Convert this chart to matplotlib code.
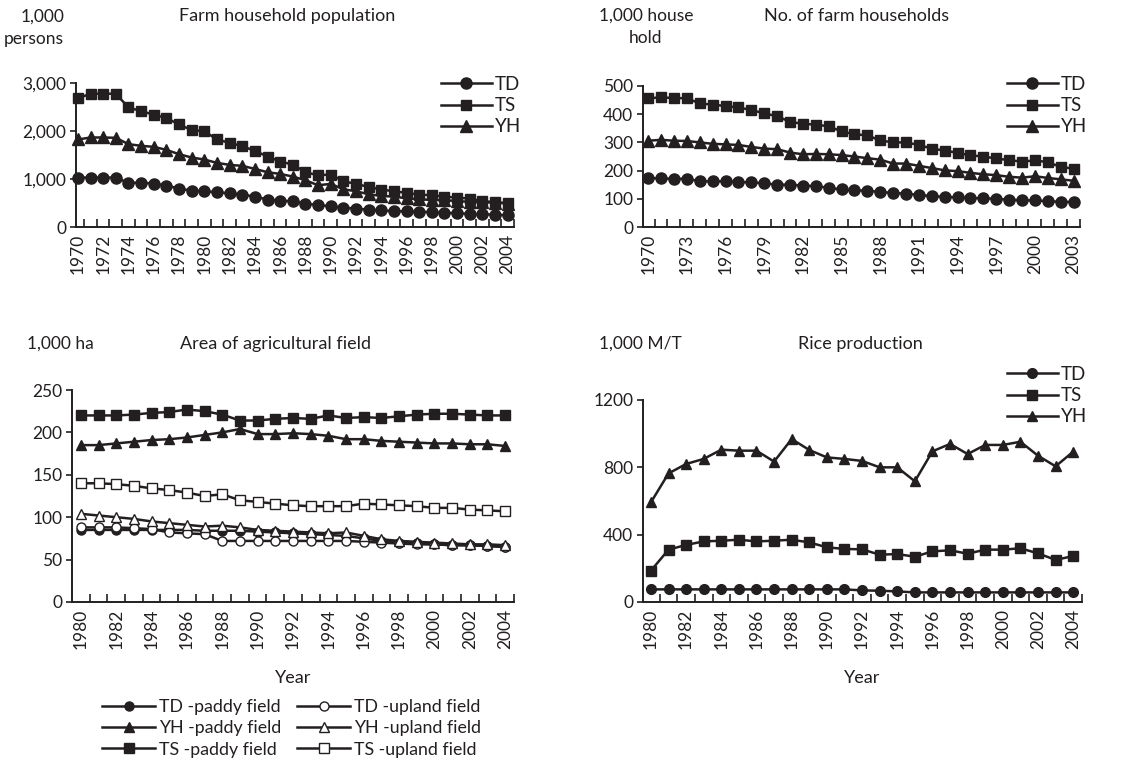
import matplotlib
matplotlib.use("Agg")
import matplotlib.pyplot as plt
from matplotlib.ticker import FuncFormatter

plt.rcParams['font.family'] = ['Lato', 'DejaVu Sans']

# ---------------- data ----------------
years_pop = list(range(1970, 2005))
pop_TD = [1030, 1030, 1030, 1030, 919, 925, 905, 863, 800, 758, 745, 724, 703, 675, 633, 571, 550,
          536, 487, 459, 431, 404, 383, 362, 348, 327, 327, 320, 306, 292, 292, 271, 264, 257, 244]
pop_TS = [2680, 2777, 2777, 2777, 2490, 2415, 2340, 2270, 2137, 2018, 1997, 1823, 1754, 1684, 1587,
          1468, 1364, 1301, 1141, 1079, 1093, 953, 898, 835, 780, 745, 710, 675, 661, 633, 612, 592,
          536, 522, 494]
pop_YH = [1823, 1865, 1865, 1858, 1726, 1691, 1670, 1607, 1517, 1447, 1406, 1336, 1294, 1274, 1211,
          1141, 1106, 1051, 974, 870, 898, 786, 745, 682, 647, 633, 598, 578, 564, 557, 543, 522,
          515, 508, 487]

years_hh = list(range(1970, 2004))
hh_TD = [174, 172, 171, 171, 162, 162, 162, 160, 158, 155, 150, 150, 147, 145, 139, 133, 130, 129,
         124, 121, 118, 114, 109, 107, 105, 103, 102, 100, 97, 95, 94, 92, 89, 89]
hh_TS = [456, 460, 457, 457, 438, 434, 429, 424, 415, 403, 393, 373, 366, 363, 357, 339, 329, 325,
         307, 300, 300, 291, 278, 271, 263, 254, 250, 243, 237, 232, 236, 230, 213, 207]
hh_YH = [306, 309, 306, 305, 300, 295, 293, 291, 284, 278, 276, 264, 258, 259, 258, 255, 250, 244,
         239, 225, 225, 217, 209, 201, 198, 192, 187, 184, 178, 175, 180, 174, 169, 164]

years_area = list(range(1980, 2005))
TD_paddy = [85, 85, 85, 85, 85, 85, 85, 84, 84, 84, 83, 82, 81, 80, 79, 78, 75, 72, 70, 69, 68,
            67, 67, 66, 65]
TD_upland = [88, 88, 88, 87, 86, 82, 81, 80, 72, 72, 72, 72, 72, 72, 72, 72, 71, 70, 69, 68, 68,
             67, 67, 66, 65]
YH_paddy = [185, 185, 187, 189, 191, 192, 194, 197, 200, 204, 198, 198, 199, 198, 196, 192, 192,
            190, 189, 188, 187, 187, 186, 186, 184]
YH_upland = [104, 102, 100, 98, 95, 93, 91, 89, 90, 88, 85, 84, 83, 82, 81, 82, 78, 74, 72, 71,
             70, 69, 68, 68, 67]
TS_paddy = [220, 220, 220, 221, 223, 224, 227, 225, 221, 214, 214, 216, 217, 216, 220, 217, 218,
            217, 219, 221, 222, 222, 221, 220, 220]
TS_upland = [140, 140, 139, 137, 134, 132, 129, 125, 127, 120, 118, 116, 114, 113, 113, 113, 116,
             115, 114, 113, 111, 111, 109, 108, 107]

years_rice = list(range(1980, 2005))
rice_TD = [75, 75, 75, 75, 75, 75, 75, 75, 75, 75, 75, 75, 69, 67, 63, 57, 57, 57, 57, 57, 57, 57,
           57, 57, 57]
rice_TS = [186, 311, 339, 360, 364, 370, 360, 364, 370, 354, 325, 315, 313, 281, 285, 269, 301,
           307, 287, 311, 311, 319, 289, 250, 273]
rice_YH = [592, 764, 820, 850, 905, 899, 899, 834, 968, 903, 859, 850, 838, 800, 800, 717, 895,
           939, 879, 933, 933, 952, 869, 806, 893]

# ---------------- style ----------------
W, H = 1123, 760
C = '#231f20'
FS = 12.5      # tick labels
LFS = 13.5     # legends
BLFS = 12.8    # bottom legend
TFS = 13       # titles
UFS = 12.5     # unit labels

fig = plt.figure(figsize=(W / 100, H / 100), dpi=100)


def px_axes(left, right, top, bottom):
    return fig.add_axes([left / W, 1 - bottom / H, (right - left) / W, (bottom - top) / H])


def style(ax, years, xlim, ylim, yticks, fmt, label_every):
    for s in ['top', 'right']:
        ax.spines[s].set_visible(False)
    for s in ['left', 'bottom']:
        ax.spines[s].set_linewidth(1.4)
        ax.spines[s].set_color(C)
    ax.set_xlim(*xlim)
    ax.set_ylim(*ylim)
    ax.set_yticks(yticks)
    ax.yaxis.set_major_formatter(FuncFormatter(fmt))
    ax.tick_params(axis='y', direction='out', length=4, width=1.2, colors=C, labelsize=FS, pad=3)
    lab_years = years[::label_every]
    ax.set_xticks(lab_years)
    ax.set_xticklabels([str(y) for y in lab_years], rotation=90)
    ax.tick_params(axis='x', which='major', length=0, labelsize=FS, colors=C, pad=5)
    ax.set_xticks([y + 0.5 for y in years], minor=True)
    ax.tick_params(axis='x', which='minor', direction='in', length=6, width=1.2, colors=C)


comma = lambda v, p: f"{int(v):,}"
plain = lambda v, p: f"{int(v)}"

lw = 1.8


def small_legend(ax, x, y):
    ax.legend(loc='upper left', bbox_to_anchor=(x / W, 1 - y / H), bbox_transform=fig.transFigure,
              frameon=False, fontsize=LFS, handlelength=2.7, handletextpad=0.15, labelspacing=0.22,
              borderpad=0, borderaxespad=0, labelcolor=C)


# ---- top left ----
ax1 = px_axes(76, 514, 83, 227)
ax1.plot(years_pop, pop_TD, color=C, lw=lw, marker='o', ms=8, label='TD', clip_on=False)
ax1.plot(years_pop, pop_TS, color=C, lw=lw, marker='s', ms=7.5, label='TS', clip_on=False)
ax1.plot(years_pop, pop_YH, color=C, lw=lw, marker='^', ms=8, label='YH', clip_on=False)
style(ax1, years_pop, (1969.85, 2004.4), (0, 3000), [0, 1000, 2000, 3000], comma, 2)
small_legend(ax1, 441, 76)
fig.text(64 / W, 1 - 28 / H, '1,000\npersons', ha='right', va='center', fontsize=UFS, color=C,
         multialignment='right', linespacing=1.45)
fig.text(287 / W, 1 - 16 / H, 'Farm household population', ha='center', va='center', fontsize=TFS,
         color=C)

# ---- top right ----
ax2 = px_axes(643, 1080, 86, 227)
ax2.plot(years_hh, hh_TD, color=C, lw=lw, marker='o', ms=8, label='TD', clip_on=False)
ax2.plot(years_hh, hh_TS, color=C, lw=lw, marker='s', ms=7.5, label='TS', clip_on=False)
ax2.plot(years_hh, hh_YH, color=C, lw=lw, marker='^', ms=8, label='YH', clip_on=False)
style(ax2, years_hh, (1969.6, 2003.5), (0, 500), [0, 100, 200, 300, 400, 500], plain, 3)
small_legend(ax2, 1007, 76)
fig.text(646 / W, 1 - 27 / H, '1,000 house\nhold', ha='center', va='center', fontsize=UFS, color=C,
         linespacing=1.45)
fig.text(857 / W, 1 - 16 / H, 'No. of farm households', ha='center', va='center', fontsize=TFS,
         color=C)

# ---- bottom left ----
ax3 = px_axes(72, 514, 390, 602)
ms3 = 6.5
h_tdp, = ax3.plot(years_area, TD_paddy, color=C, lw=lw, marker='o', ms=ms3, label='TD -paddy field')
h_tdu, = ax3.plot(years_area, TD_upland, color=C, lw=lw, marker='o', ms=ms3, mfc='white',
                  label='TD -upland field')
h_yhp, = ax3.plot(years_area, YH_paddy, color=C, lw=lw, marker='^', ms=ms3 + 0.5, label='YH -paddy field')
h_yhu, = ax3.plot(years_area, YH_upland, color=C, lw=lw, marker='^', ms=ms3 + 0.5, mfc='white',
                  label='YH -upland field')
h_tsp, = ax3.plot(years_area, TS_paddy, color=C, lw=lw, marker='s', ms=ms3, label='TS -paddy field')
h_tsu, = ax3.plot(years_area, TS_upland, color=C, lw=lw, marker='s', ms=ms3, mfc='white',
                  label='TS -upland field')
style(ax3, years_area, (1979.5, 2004.5), (0, 250), [0, 50, 100, 150, 200, 250], plain, 2)
ax3.set_xlabel('Year', fontsize=TFS, color=C, labelpad=15)
fig.text(27 / W, 1 - 344 / H, '1,000 ha', ha='left', va='center', fontsize=UFS, color=C)
fig.text(275 / W, 1 - 344 / H, 'Area of agricultural field', ha='center', va='center',
         fontsize=TFS, color=C)
fig.legend(handles=[h_tdp, h_yhp, h_tsp, h_tdu, h_yhu, h_tsu], ncol=2, loc='upper left',
           bbox_to_anchor=(102 / W, 1 - 699 / H), frameon=False, fontsize=BLFS, handlelength=3.0,
           handletextpad=0.2, labelspacing=0.3, columnspacing=0.9, borderpad=0, borderaxespad=0,
           labelcolor=C)

# ---- bottom right ----
ax4 = px_axes(643, 1082, 400, 602)
ax4.plot(years_rice, rice_TD, color=C, lw=lw, marker='o', ms=7, label='TD', clip_on=False)
ax4.plot(years_rice, rice_TS, color=C, lw=lw, marker='s', ms=7, label='TS', clip_on=False)
ax4.plot(years_rice, rice_YH, color=C, lw=lw, marker='^', ms=7.5, label='YH', clip_on=False)
style(ax4, years_rice, (1979.55, 2004.45), (0, 1200), [0, 400, 800, 1200], plain, 2)
ax4.set_xlabel('Year', fontsize=TFS, color=C, labelpad=15)
small_legend(ax4, 1007, 366)
fig.text(599 / W, 1 - 344 / H, '1,000 M/T', ha='left', va='center', fontsize=UFS, color=C)
fig.text(860 / W, 1 - 344 / H, 'Rice production', ha='center', va='center', fontsize=TFS, color=C)

fig.savefig('out.png', dpi=100)
